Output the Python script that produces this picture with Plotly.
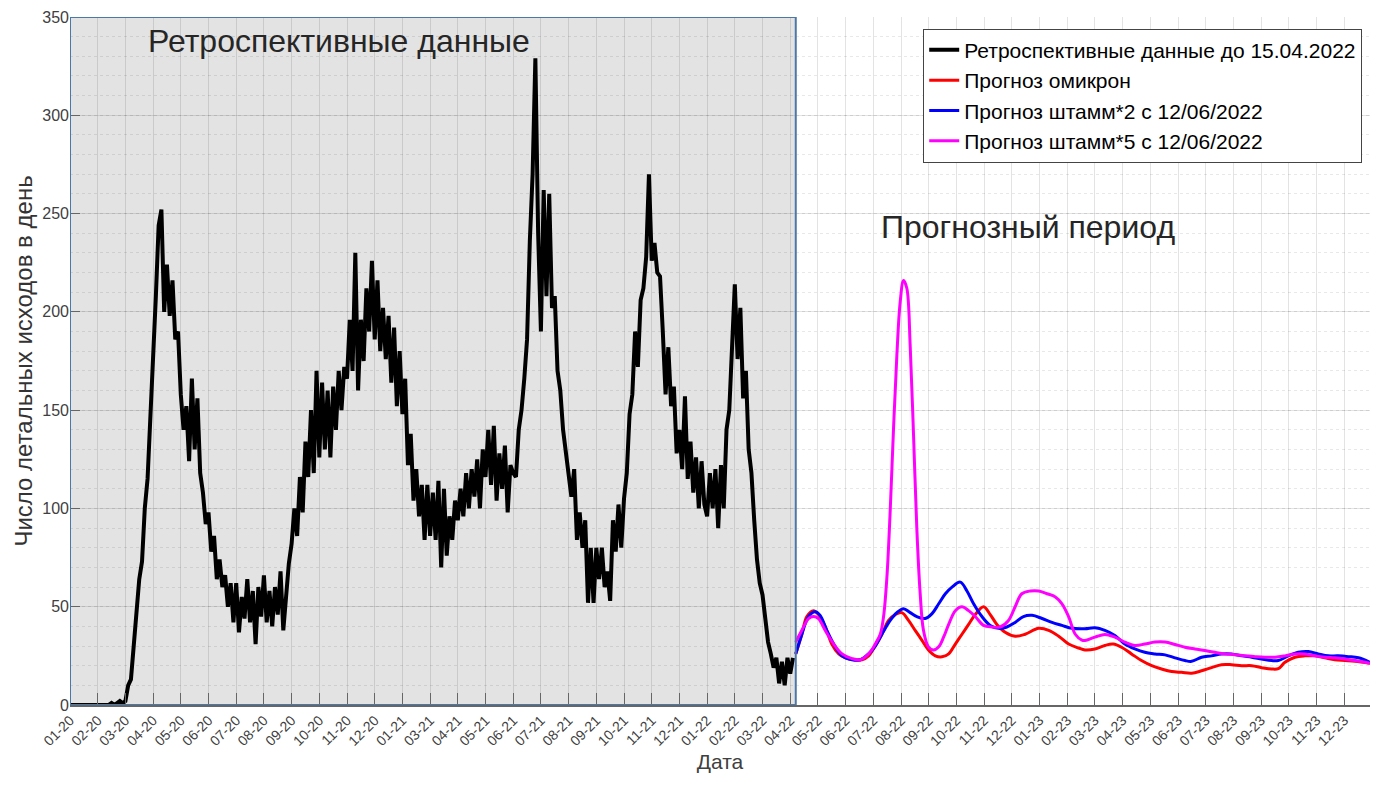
import numpy as np
import plotly.graph_objects as go

# ---------------- data ----------------
MONTH_LABELS = ['01-20','02-20','03-20','04-20','05-20','06-20','07-20','08-20','09-20','10-20',
                '11-20','12-20','01-21','03-21','04-21','05-21','06-21','07-21','08-21','09-21',
                '10-21','11-21','12-21','01-22','02-22','03-22','04-22','05-22','06-22','07-22',
                '08-22','09-22','10-22','11-22','12-22','01-23','02-23','03-23','04-23','05-23',
                '06-23','07-23','08-23','09-23','10-23','11-23','12-23']

# retrospective daily deaths, sampled every 0.1 of a tick interval from 01-20
RET_STEP = 0.1
retro_values = [
    0, 0, 0, 0, 0, 0, 0, 0, 0, 0,
    0, 0, 0, 0, 0, 1, 0, 1, 2, 1,
    2, 10, 13, 30, 46, 64, 73, 100, 115, 143,
    174, 208, 244, 252, 200, 224, 198, 216, 186, 190,
    158, 140, 152, 124, 166, 130, 156, 118, 108, 92,
    98, 78, 86, 64, 74, 60, 66, 50, 62, 42,
    62, 37, 55, 44, 64, 42, 58, 31, 60, 45,
    66, 42, 58, 40, 60, 46, 68, 38, 55, 72,
    82, 100, 86, 116, 98, 134, 116, 150, 118, 170,
    126, 164, 130, 160, 126, 162, 140, 170, 150, 172,
    166, 196, 170, 230, 160, 196, 175, 212, 190, 226,
    186, 216, 180, 202, 176, 198, 164, 192, 152, 180,
    148, 166, 122, 138, 104, 120, 96, 112, 84, 112,
    86, 108, 84, 114, 70, 110, 76, 96, 84, 104,
    94, 110, 96, 118, 100, 120, 106, 125, 100, 130,
    116, 140, 112, 142, 104, 128, 110, 132, 98, 122,
    118, 116, 140, 150, 166, 186, 236, 270, 329, 240,
    190, 262, 208, 260, 202, 208, 170, 160, 140, 128,
    118, 106, 120, 84, 98, 80, 94, 52, 80, 52,
    80, 64, 80, 60, 68, 53, 94, 78, 102, 80,
    105, 118, 148, 158, 190, 172, 206, 212, 228, 270,
    226, 235, 220, 218, 190, 158, 182, 152, 162, 128,
    140, 120, 157, 115, 134, 108, 126, 100, 124, 102,
    96, 118, 100, 120, 90, 122, 100, 140, 150, 186,
    214, 176, 202, 156, 170, 130, 118, 94, 74, 62,
    56, 44, 32, 26, 19, 24, 11, 22, 10, 24,
    16, 24,
]

omicron_x = [26.2, 26.42, 26.6, 26.84, 27.02, 27.26, 27.5, 27.75, 27.99, 28.35, 28.59, 28.83, 29.07,
             29.31, 29.55, 29.79, 30.03, 30.27, 30.51, 30.75, 30.99, 31.24, 31.48, 31.72, 31.96, 32.2,
             32.44, 32.68, 32.98, 33.22, 33.46, 33.76, 34.12, 34.48, 34.97, 35.33, 35.69, 36.05, 36.41,
             36.64, 37.0, 37.36, 37.66, 37.96, 38.32, 38.68, 39.05, 39.41, 39.77, 40.13, 40.49, 40.85,
             41.21, 41.57, 41.93, 42.3, 42.66, 43.02, 43.38, 43.62, 43.86, 44.22, 44.58, 44.94, 45.3,
             45.66, 46.03, 46.39, 46.93]
omicron_y = [26, 36, 45, 48, 46, 40, 31, 26, 24, 23, 23, 25, 30, 36, 43, 46, 47, 43, 38, 33, 28, 25,
             24.5, 26, 31, 36, 41, 46, 50, 46, 41, 37, 35, 36, 39, 38, 35, 31, 29, 28, 28.5, 30.3, 31,
             29.4, 26, 22.6, 20, 18.3, 17, 16.6, 16.2, 17.4, 19, 20.5, 20.5, 20, 20, 19, 18.3, 18.5,
             21.7, 24.3, 25, 25, 24, 23, 22.6, 22.2, 21.2]

strain2_x = [26.2, 26.42, 26.66, 26.9, 27.08, 27.32, 27.57, 27.87, 28.23, 28.53, 28.83, 29.07, 29.31,
             29.61, 29.85, 30.09, 30.33, 30.57, 30.87, 31.12, 31.36, 31.6, 31.84, 32.14, 32.38, 32.62,
             32.92, 33.22, 33.52, 33.82, 34.12, 34.42, 34.73, 35.09, 35.45, 35.81, 36.17, 36.64, 37.0,
             37.36, 37.72, 38.08, 38.44, 38.8, 39.17, 39.53, 39.89, 40.25, 40.49, 40.85, 41.21, 41.57,
             41.93, 42.3, 42.66, 43.02, 43.38, 43.62, 43.98, 44.34, 44.7, 45.06, 45.42, 45.78, 46.15,
             46.51, 46.93]
strain2_y = [26, 36, 45, 47.5, 45.6, 38, 31, 25, 23, 23, 26, 30, 36, 43, 47, 49, 47, 45, 44, 46.5,
             51.5, 56.6, 60, 62.5, 58, 51.5, 45, 40.5, 39, 39.7, 42, 45, 45.6, 44, 42, 40.5, 39, 38.8,
             39.3, 38, 35.4, 31, 28.5, 26.8, 26, 25.5, 24, 22.6, 22.2, 24.3, 25, 26, 26, 25, 24.3,
             23.4, 22.6, 22.6, 25, 26.8, 27.2, 26, 25, 25, 24.6, 24, 21.7]

strain5_x = [26.2, 26.42, 26.66, 26.84, 27.02, 27.26, 27.57, 27.87, 28.23, 28.53, 28.83, 29.07, 29.25,
             29.37, 29.49, 29.61, 29.73, 29.85, 29.97, 30.09, 30.21, 30.33, 30.45, 30.57, 30.69, 30.81,
             30.99, 31.18, 31.36, 31.54, 31.72, 31.96, 32.2, 32.44, 32.68, 32.98, 33.28, 33.58, 33.88,
             34.12, 34.36, 34.67, 34.97, 35.27, 35.57, 35.81, 36.05, 36.29, 36.53, 36.64, 37.0, 37.36,
             37.72, 38.08, 38.44, 38.8, 39.17, 39.53, 39.89, 40.25, 40.61, 40.97, 41.33, 41.69, 42.05,
             42.41, 42.77, 43.14, 43.5, 43.86, 44.22, 44.58, 44.94, 45.3, 45.66, 46.03, 46.39, 46.93]
strain5_y = [32, 38, 44, 45, 44, 38, 31, 26, 23.6, 23, 26, 31, 36, 45, 65, 99, 141, 178, 205, 216,
             212, 183, 138, 90, 57, 38, 29.6, 28, 29.6, 34.6, 41, 48, 50, 48, 45, 40.5, 39.7, 39.7,
             43, 50, 56.6, 58, 58, 56.6, 55, 51.5, 45, 36, 33, 32.8, 34.5, 35.9, 34.5, 32, 30.3, 31,
             32, 32, 30.8, 29.4, 28.5, 27.7, 26.8, 26, 25.6, 25, 24.6, 24.3, 24.3, 25, 26, 26, 25,
             24.3, 24, 23.4, 22.6, 21.2]

RETRO_END = 26.2       # 15.04.2022 in tick units
X_END = 46.93
Y_TICKS = [0, 50, 100, 150, 200, 250, 300, 350]

# ---------------- figure ----------------
retro_x = np.arange(len(retro_values)) * RET_STEP
FONT = 'Liberation Sans, Arial, sans-serif'

fig = go.Figure()
fig.add_trace(go.Scatter(x=retro_x, y=retro_values, mode='lines',
                         line=dict(color='black', width=4),
                         name='Ретроспективные данные до 15.04.2022'))
fig.add_trace(go.Scatter(x=omicron_x, y=omicron_y, mode='lines',
                         line=dict(color='#ff0000', width=3, shape='spline'),
                         name='Прогноз омикрон'))
fig.add_trace(go.Scatter(x=strain2_x, y=strain2_y, mode='lines',
                         line=dict(color='#0000ff', width=3, shape='spline'),
                         name='Прогноз штамм*2 с 12/06/2022'))
fig.add_trace(go.Scatter(x=strain5_x, y=strain5_y, mode='lines',
                         line=dict(color='#ff00ff', width=3, shape='spline'),
                         name='Прогноз штамм*5 с 12/06/2022'))

# grey retrospective area
fig.add_shape(type='rect', xref='x', yref='y', x0=0, x1=RETRO_END, y0=0, y1=350,
              fillcolor='#e3e3e3', line=dict(width=0), layer='below')
fig.add_shape(type='rect', xref='x', yref='y', x0=0, x1=RETRO_END, y0=0, y1=350,
              fillcolor='rgba(0,0,0,0)', line=dict(color='#4a78a8', width=2), layer='above')

fig.add_annotation(x=2.75, y=338, xref='x', yref='y', text='Ретроспективные данные',
                   showarrow=False, xanchor='left', yanchor='middle',
                   font=dict(family=FONT, size=32, color='#262626'))
fig.add_annotation(x=29.2, y=243, xref='x', yref='y', text='Прогнозный период',
                   showarrow=False, xanchor='left', yanchor='middle',
                   font=dict(family=FONT, size=32, color='#262626'))

grid_c = 'rgba(0,0,0,0.11)'
# the page body adds an 8 px offset, so the figure is sized to end at the window edge
fig.update_layout(
    width=1374, height=780,
    margin=dict(l=62, r=12, t=9, b=83),
    paper_bgcolor='white', plot_bgcolor='white',
    font=dict(family=FONT, color='#404040'),
    showlegend=True,
    legend=dict(x=0.994, y=0.983, xanchor='right', yanchor='top',
                bgcolor='white', bordercolor='#444', borderwidth=1,
                font=dict(size=21, color='black'), tracegroupgap=0, itemwidth=30),
    xaxis=dict(range=[0, X_END], tickmode='array', tickvals=list(range(len(MONTH_LABELS))),
               ticktext=MONTH_LABELS, tickangle=-45, ticks='inside', ticklen=12,
               tickcolor='#666', tickfont=dict(size=14, color='#404040'), automargin=False,
               showgrid=True, gridcolor=grid_c, gridwidth=1, zeroline=False,
               showline=True, linecolor='#666', linewidth=1.5,
               title=dict(text='Дата', font=dict(size=21, color='#404040'), standoff=6)),
    yaxis=dict(range=[0, 350], tickmode='array', tickvals=Y_TICKS, ticks='inside', ticklen=10,
               tickcolor='#666', tickfont=dict(size=16, color='#404040'), automargin=False,
               showgrid=True, gridcolor=grid_c, gridwidth=1.2, zeroline=False, showline=False,
               minor=dict(dtick=10, showgrid=True, gridcolor='rgba(0,0,0,0.09)', griddash='dot',
                          gridwidth=1),
               title=dict(text='Число летальных исходов в день', font=dict(size=24, color='#333'),
                          standoff=2)),
)

fig.write_html('out.html')
